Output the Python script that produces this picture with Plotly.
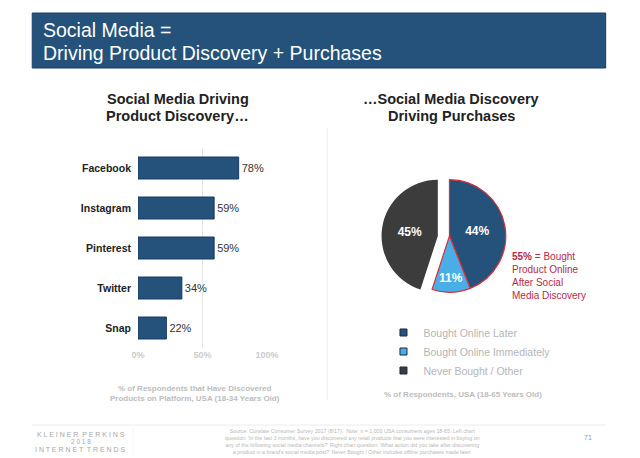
import plotly.graph_objects as go

# ── Data ──────────────────────────────────────────────────────────────────────
platforms      = ['Facebook', 'Instagram', 'Pinterest', 'Twitter', 'Snap']
discovery_pct  = [78, 59, 59, 34, 22]

purchase_labels = ['Bought Online Later', 'Bought Online Immediately', 'Never Bought / Other']
purchase_pct    = [44, 11, 45]
purchase_colors = ['#24527a', '#4aaee6', '#3c3c3c']

x_ticks      = [0, 50, 100]
x_tick_texts = ['0%', '50%', '100%']

# ── Helpers (pixel -> paper, margins are zero) ───────────────────────────────
W, H = 640, 458
def px(x): return x / W
def py(y): return 1 - y / H

FONT  = 'Liberation Sans, Arial, sans-serif'
NAVY  = '#24527a'
GREY  = '#bdbdbd'
RED   = '#d8303c'
CRIM  = '#b8294a'

fig = go.Figure()

# ── Left: bar chart ──────────────────────────────────────────────────────────
fig.add_trace(go.Bar(
    x=discovery_pct, y=platforms, orientation='h',
    marker=dict(color=NAVY, line=dict(color='#173a68', width=1)),
    text=[f'{v}%' for v in discovery_pct], textposition='outside',
    textfont=dict(size=11, color='#333333', family=FONT),
    cliponaxis=False, showlegend=False, hoverinfo='skip',
))

# ── Right: pie split in two groups (55% group and 45% slice pulled apart) ────
clear = 'rgba(0,0,0,0)'
fig.add_trace(go.Pie(
    labels=purchase_labels, values=purchase_pct, sort=False,
    direction='clockwise', rotation=0,
    marker=dict(colors=[purchase_colors[0], purchase_colors[1], clear],
                line=dict(color=[RED, RED, clear], width=1.2)),
    text=[f'{purchase_pct[0]}%', f'{purchase_pct[1]}%', ''], textinfo='text',
    textposition='inside', insidetextorientation='horizontal',
    textfont=dict(size=12, color='white', family=FONT, weight='bold'),
    domain=dict(x=[px(456 - 58), px(456 + 58)], y=[py(294), py(178)]),
    showlegend=False, hoverinfo='skip',
))
fig.add_trace(go.Pie(
    labels=purchase_labels, values=purchase_pct, sort=False,
    direction='clockwise', rotation=0,
    marker=dict(colors=[clear, clear, purchase_colors[2]],
                line=dict(color=clear, width=0)),
    text=['', '', f'{purchase_pct[2]}%'], textinfo='text',
    textposition='inside', insidetextorientation='horizontal',
    textfont=dict(size=12, color='white', family=FONT, weight='bold'),
    domain=dict(x=[px(444 - 58), px(444 + 58)], y=[py(294), py(178)]),
    showlegend=False, hoverinfo='skip',
))

# legend entries for the pie
for lab, col in zip(purchase_labels, purchase_colors):
    fig.add_trace(go.Scatter(
        x=[None], y=[None], mode='markers', name=lab,
        marker=dict(symbol='square', size=7, color=col, line=dict(color='#1a2a40', width=1)),
    ))

# ── Layout ───────────────────────────────────────────────────────────────────
fig.update_layout(
    width=W, height=H,
    margin=dict(l=0, r=0, t=0, b=0),
    paper_bgcolor='white', plot_bgcolor='white',
    font=dict(family=FONT),
    bargap=0.45,
    xaxis=dict(
        domain=[px(135), px(268)], range=[0, 100],
        tickvals=x_ticks, ticktext=[f'<b>{t}</b>' for t in x_tick_texts],
        tickfont=dict(size=9, color='#cccccc'),
        showgrid=True, gridcolor='#e6e6e6', gridwidth=1,
        zeroline=False, showline=False, fixedrange=True,
    ),
    yaxis=dict(
        domain=[py(348), py(148)],
        categoryorder='array', categoryarray=platforms, autorange='reversed',
        tickvals=platforms, ticktext=[f'<b>{p}</b>' for p in platforms],
        tickfont=dict(size=10.5, color='#222222'),
        ticklabelstandoff=6,
        showgrid=False, zeroline=False, showline=False, fixedrange=True,
    ),
    legend=dict(
        x=px(388), y=py(318), xanchor='left', yanchor='top',
        font=dict(size=10.5, color='#b5b5b5', family=FONT),
        bgcolor='rgba(0,0,0,0)', tracegroupgap=0, itemwidth=30,
    ),
)

# ── Decorations ──────────────────────────────────────────────────────────────
shapes = [
    # title banner
    dict(type='rect', xref='paper', yref='paper',
         x0=px(26), x1=px(617), y0=py(68), y1=py(13),
         fillcolor=NAVY, line=dict(color='#1a3d6b', width=1), layer='below'),
    # vertical divider
    dict(type='line', xref='paper', yref='paper',
         x0=px(330), x1=px(330), y0=py(128), y1=py(400),
         line=dict(color='#eeeeee', width=1)),
    # footer rule
    dict(type='line', xref='paper', yref='paper',
         x0=px(26), x1=px(617), y0=py(425), y1=py(425),
         line=dict(color='#ececec', width=1)),
    dict(type='line', xref='paper', yref='paper',
         x0=px(130), x1=px(130), y0=py(428), y1=py(456),
         line=dict(color='#f4f4f4', width=1)),
]
fig.update_layout(shapes=shapes)

def note(x, y, text, size, color, xanchor='left', yanchor='middle', align='left'):
    fig.add_annotation(
        x=px(x), y=py(y), xref='paper', yref='paper', text=text, showarrow=False,
        xanchor=xanchor, yanchor=yanchor, align=align,
        font=dict(size=size, color=color, family=FONT),
    )

note(35, 30, 'Social Media =', 19.5, 'white')
note(35, 53, 'Driving Product Discovery + Purchases', 19.5, 'white')

note(176, 99, '<b>Social Media Driving</b>', 14.5, '#222222', xanchor='center')
note(176, 116, '<b>Product Discovery…</b>', 14.5, '#222222', xanchor='center')
note(458, 99, '<b>…Social Media Discovery</b>', 14.5, '#222222', xanchor='center')
note(458, 116, '<b>Driving Purchases</b>', 14.5, '#222222', xanchor='center')

note(194, 393, '<b>% of Respondents that Have Discovered<br>Products on Platform, USA (18-34 Years Old)</b>',
     8, GREY, xanchor='center', align='center')
note(470, 394, '<b>% of Respondents, USA (18-65 Years Old)</b>', 8, GREY, xanchor='center')

note(518, 249, '<b>55%</b> = Bought<br>Product Online<br>After Social<br>Media Discovery',
     10, CRIM, yanchor='top')

note(76, 434, 'K L E I N E R  P E R K I N S', 7, '#a8a8a8', xanchor='center')
note(76, 441, '2 0 1 8', 6.5, '#a8a8a8', xanchor='center')
note(76, 449, 'I N T E R N E T  T R E N D S', 7, '#a8a8a8', xanchor='center')

note(356, 441,
     "Source: Curalate Consumer Survey 2017 (8/17).  Note: n = 1,000 USA consumers ages 18-65. Left chart<br>"
     "question: 'In the last 3 months, have you discovered any retail products that you were interested in buying on<br>"
     "any of the following social media channels?' Right chart question: 'What action did you take after discovering<br>"
     "a product in a brand's social media post?' Never Bought / Other includes offline purchases made later.",
     5.3, '#b8b8b8', xanchor='center', align='center')
note(599, 437, '71', 7, '#999999', xanchor='center')

# page body has a default 8px margin; drop it so the figure sits at 0,0
fig.write_html('out.html', config={'displayModeBar': False},
               post_script="document.body.style.margin='0';")
